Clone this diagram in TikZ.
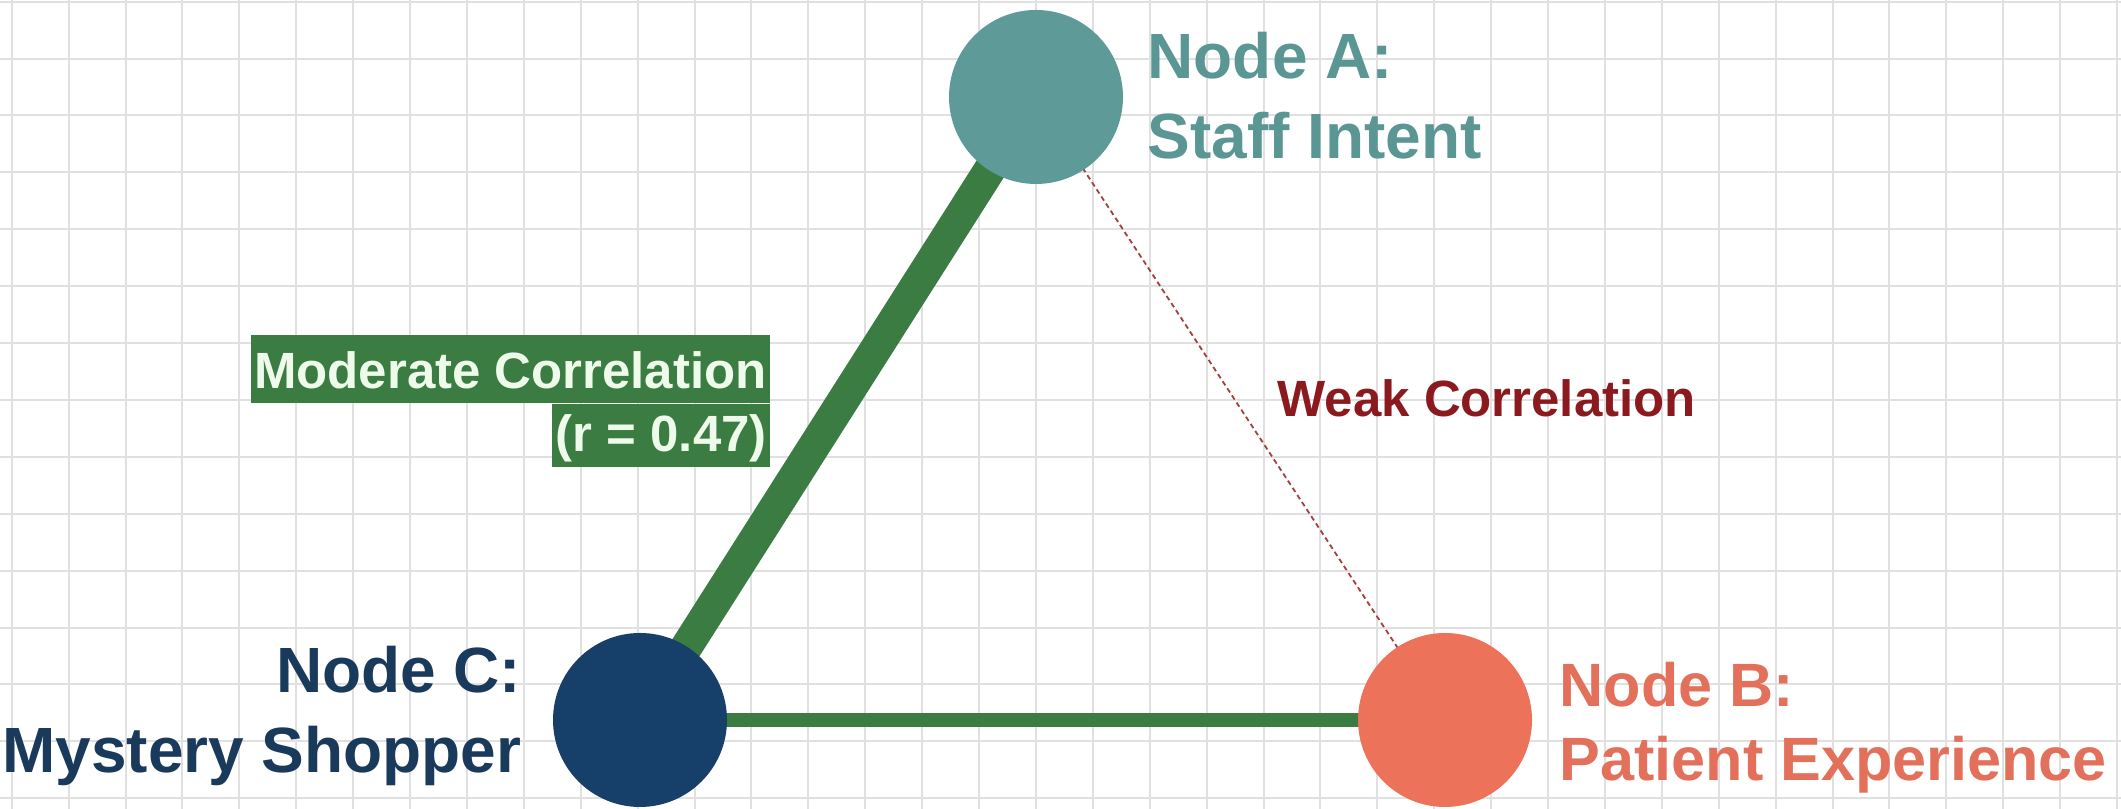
\documentclass[tikz,border=0pt]{standalone}
\usepackage{fontspec}
\setmainfont{Liberation Sans}
\definecolor{corrgreen}{RGB}{58,124,66}
\definecolor{boxtext}{RGB}{238,250,234}
\definecolor{nodeteal}{RGB}{94,154,152}
\definecolor{tealtext}{RGB}{90,150,148}
\definecolor{nodenavy}{RGB}{22,63,106}
\definecolor{navytext}{RGB}{26,58,92}
\definecolor{nodecoral}{RGB}{236,114,89}
\definecolor{coraltext}{RGB}{226,112,90}
\definecolor{weakred}{RGB}{139,26,31}
\definecolor{weakdash}{RGB}{165,64,64}
\pgfdeclarelayer{gridlayer}
\pgfdeclarelayer{edgelayer}
\pgfsetlayers{gridlayer,edgelayer,main}
\begin{document}
\begin{tikzpicture}[x=1cm,y=1cm,
  gridline/.style={draw=black!12, line width=0.02cm},
  vertex/.style={circle, minimum size=1.74cm, inner sep=0pt},
  nodelabel/.style={inner sep=0pt, font=\fontsize{18.2}{22.5}\selectfont\bfseries},
  corrlabel/.style={inner sep=0pt, font=\fontsize{14.5}{17}\selectfont\bfseries},
  strongedge/.style={draw=corrgreen, line width=0.32cm},
  mediumedge/.style={draw=corrgreen, line width=0.14cm},
  weakedge/.style={draw=weakdash, line width=0.018cm, dash pattern=on 0.05cm off 0.035cm},
  corrbox/.style={fill=corrgreen, text=boxtext, inner xsep=0.035cm, inner ysep=0pt,
    font=\fontsize{14.5}{17}\selectfont\bfseries}
]
\useasboundingbox (0,0) rectangle (21.21,8.09);

% background grid
\begin{pgfonlayer}{gridlayer}
  \fill[white] (0,0) rectangle (21.21,8.09);
  \foreach \i in {0,...,37}
    \draw[gridline] ({0.117+0.569*\i},0) -- ++(0,8.09);
  \foreach \j in {0,...,14}
    \draw[gridline] (0,{8.073-0.569*\j}) -- ++(21.21,0);
\end{pgfonlayer}

% the three measures
\node[vertex, fill=nodeteal] (A) at (10.36,7.12) {};
\node[vertex, fill=nodenavy] (C) at (6.40,0.89) {};
\node[vertex, fill=nodecoral] (B) at (14.45,0.89) {};

% correlations between them, tucked under the circles
\begin{pgfonlayer}{edgelayer}
  \draw[strongedge] (C.center) -- (A.center);
  \draw[mediumedge] (C.center) -- (B.center);
  \draw[weakedge] (A.center) -- (B.center);
\end{pgfonlayer}

% node captions
\node[nodelabel, text=tealtext, anchor=base west] (Alab) at (11.47,7.30)
  {\begin{tabular}[t]{@{}l@{}}Node A:\\Staff Intent\end{tabular}};
\node[nodelabel, text=navytext, anchor=base east] (Clab) at (5.22,1.16)
  {\begin{tabular}[t]{@{}r@{}}Node C:\\Mystery Shopper\end{tabular}};
\node[nodelabel, font=\fontsize{17.4}{21}\selectfont\bfseries, text=coraltext, anchor=base west]
  (Blab) at (15.59,1.02)
  {\begin{tabular}[t]{@{}l@{}}Node B:\\Patient Experience\end{tabular}};

% edge captions
\node[corrlabel, text=weakred, anchor=base west] (weaklab) at (12.77,3.92) {Weak Correlation};
\node[corrbox, text height=0.54cm, text depth=0.14cm, anchor=base east] (modlab) at (7.71,4.20)
  {Moderate Correlation};
\node[corrbox, text height=0.47cm, text depth=0.16cm, anchor=north east] (modval) at (modlab.south east)
  {(r = 0.47)};
\end{tikzpicture}
\end{document}
